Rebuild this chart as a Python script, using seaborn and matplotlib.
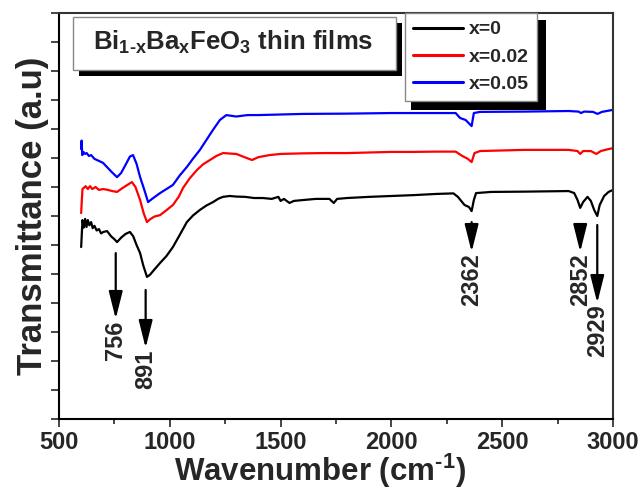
import numpy as np
import pandas as pd
import seaborn as sns
import matplotlib.pyplot as plt
from matplotlib.patches import Rectangle

# FTIR spectra (wavenumber in cm-1, transmittance in arbitrary units)
wn_0 = [600, 603, 606, 612, 618, 624, 630, 637, 645, 652, 660, 670, 680, 690, 700, 717, 735, 750, 762,
        780, 800, 820, 835, 850, 866, 880, 897, 910, 930, 956, 985, 1014, 1045, 1077, 1105, 1136, 1165,
        1195, 1220, 1240, 1270, 1300, 1340, 1380, 1420, 1460, 1490, 1500, 1515, 1540, 1560, 1600, 1660,
        1720, 1740, 1755, 1800, 1900, 2000, 2100, 2200, 2280, 2300, 2330, 2350, 2362, 2372, 2382, 2450,
        2600, 2800, 2825, 2840, 2852, 2865, 2885, 2900, 2915, 2929, 2940, 2960, 2980, 3000]
tr_0 = [5.93, 6.40, 6.86, 6.60, 6.90, 6.62, 6.86, 6.68, 6.79, 6.58, 6.66, 6.50, 6.55, 6.40, 6.45, 6.48,
        6.30, 6.20, 6.10, 6.25, 6.38, 6.45, 6.30, 6.00, 5.72, 5.30, 4.90, 4.97, 5.15, 5.38, 5.62, 5.93,
        6.35, 6.79, 7.02, 7.21, 7.36, 7.48, 7.60, 7.66, 7.69, 7.67, 7.66, 7.62, 7.62, 7.59, 7.66, 7.52,
        7.59, 7.45, 7.52, 7.55, 7.59, 7.59, 7.45, 7.59, 7.62, 7.66, 7.69, 7.72, 7.76, 7.78, 7.66, 7.38,
        7.31, 7.17, 7.55, 7.79, 7.83, 7.84, 7.86, 7.79, 7.55, 7.28, 7.48, 7.66, 7.52, 7.21, 7.00, 7.38,
        7.69, 7.83, 7.90]

wn_2 = [600, 603, 606, 612, 620, 630, 640, 650, 665, 680, 700, 720, 740, 762, 780, 800, 829, 845, 866,
        882, 897, 910, 930, 956, 985, 1014, 1040, 1060, 1090, 1123, 1150, 1181, 1210, 1240, 1300, 1340,
        1371, 1400, 1450, 1500, 1600, 1700, 1800, 1900, 2000, 2100, 2200, 2290, 2320, 2345, 2362, 2375,
        2400, 2500, 2600, 2800, 2840, 2852, 2865, 2900, 2925, 2945, 2970, 3000]
tr_2 = [7.10, 7.55, 7.93, 7.97, 8.03, 7.93, 8.03, 7.93, 8.00, 7.90, 7.93, 7.90, 7.86, 7.83, 7.93, 8.03,
        8.17, 8.00, 7.55, 7.10, 6.79, 6.88, 6.98, 7.03, 7.20, 7.38, 7.66, 7.97, 8.30, 8.59, 8.78, 8.93,
        9.07, 9.17, 9.14, 9.02, 8.93, 9.03, 9.10, 9.14, 9.16, 9.17, 9.17, 9.19, 9.21, 9.21, 9.22, 9.22,
        9.07, 8.97, 8.86, 9.17, 9.24, 9.26, 9.28, 9.28, 9.24, 9.14, 9.24, 9.24, 9.14, 9.24, 9.29, 9.34]

wn_5 = [600, 602, 605, 610, 618, 625, 635, 645, 660, 680, 699, 720, 740, 762, 780, 800, 820, 834, 850,
        866, 885, 902, 920, 956, 985, 1014, 1045, 1077, 1105, 1136, 1165, 1195, 1226, 1255, 1300, 1350,
        1400, 1500, 1600, 1800, 2000, 2200, 2290, 2310, 2335, 2362, 2372, 2400, 2600, 2800, 2845, 2855,
        2870, 2910, 2930, 2950, 3000]
tr_5 = [9.31, 9.60, 9.10, 9.21, 9.14, 9.17, 9.07, 9.10, 8.97, 8.90, 8.83, 8.66, 8.50, 8.34, 8.48, 8.76,
        9.05, 9.10, 8.80, 8.34, 7.90, 7.48, 7.59, 7.79, 7.93, 8.07, 8.40, 8.69, 8.98, 9.28, 9.62, 9.97,
        10.31, 10.48, 10.43, 10.48, 10.48, 10.50, 10.52, 10.53, 10.55, 10.55, 10.55, 10.38, 10.31, 10.10,
        10.55, 10.59, 10.60, 10.62, 10.60, 10.55, 10.60, 10.59, 10.52, 10.59, 10.66]

labels = ['x=0', 'x=0.02', 'x=0.05']
colors = ['black', 'red', 'blue']

peaks = [756, 891, 2362, 2852, 2929]
arrow_top = [5.72, 4.45, 6.79, 6.69, 6.69]
arrow_tip = [3.45, 2.45, 5.76, 5.76, 4.00]

df = pd.concat([
    pd.DataFrame({'wn': wn_0, 'tr': tr_0, 'sample': labels[0]}),
    pd.DataFrame({'wn': wn_2, 'tr': tr_2, 'sample': labels[1]}),
    pd.DataFrame({'wn': wn_5, 'tr': tr_5, 'sample': labels[2]}),
])

sns.set_style('ticks')
plt.rcParams['font.family'] = ['Liberation Sans', 'DejaVu Sans']
plt.rcParams['font.weight'] = 'bold'
plt.rcParams['mathtext.default'] = 'regular'

W, H = 643, 491
fig = plt.figure(figsize=(W / 100, H / 100), dpi=100)
ax = fig.add_axes([59 / W, 1 - 419 / H, 554 / W, 406 / H])

sns.lineplot(data=df, x='wn', y='tr', hue='sample', palette=dict(zip(labels, colors)),
             sort=False, estimator=None, lw=1.6, legend=False, ax=ax)

ax.set_xlim(500, 3000)
ax.set_ylim(0, 14)
ax.set_xticks(np.arange(500, 3001, 500))
ax.set_xticks(np.arange(750, 3000, 500), minor=True)
ax.set_yticks(np.arange(0, 15, 1))
ax.set_yticklabels([])
ax.tick_params(axis='x', which='major', direction='out', length=5.5, width=1.2, labelsize=17, pad=3)
ax.tick_params(axis='x', which='minor', direction='out', length=3.5, width=1.2)
ax.tick_params(axis='y', direction='out', length=5.5, width=1.2)
for s in ['left', 'bottom']:
    ax.spines[s].set_linewidth(1.5)
    ax.spines[s].set_color('black')
for s in ['top', 'right']:
    ax.spines[s].set_linewidth(1.5)
    ax.spines[s].set_color('#333333')

hy = '\u2010'
ax.set_xlabel('Wavenumber (cm$^{' + hy + '1}$)', fontsize=22.5, fontweight='bold')
ax.xaxis.label.set_va('baseline')
ax.xaxis.set_label_coords(261 / 554, -62 / 406)
ax.set_ylabel('Transmittance (a.u)', fontsize=25, fontweight='bold')
ax.yaxis.set_label_coords(-10 / 554, 0.5)

# peak arrows and labels
for p, y0, y1 in zip(peaks, arrow_top, arrow_tip):
    ax.annotate('', xy=(p, y1), xytext=(p, y0),
                arrowprops=dict(arrowstyle='-|>,head_length=1.2,head_width=0.3', color='black',
                                lw=1.6, mutation_scale=14, shrinkA=0, shrinkB=0))
    ax.text(p, y1 - 0.05, str(p), rotation=90, ha='center', va='top', fontsize=17, fontweight='bold')

# legend
handles = [plt.Line2D([], [], color=c, lw=2.2) for c in colors]
leg = ax.legend(handles, labels, loc='upper left', bbox_to_anchor=(346 / 554, 1.0), fontsize=14,
                frameon=True, fancybox=False, framealpha=1, handlelength=2.6, handletextpad=0.3,
                labelspacing=0.5, borderpad=0.4, borderaxespad=0)
leg.get_frame().set_edgecolor('#888888')
leg.get_frame().set_linewidth(1.0)
leg.set_zorder(6)


def px_box(x0, y0, x1, y1):
    # pixel box (from top-left of figure) -> axes fraction rectangle args
    return ((x0 - 59) / 554, (419 - y1) / 406), (x1 - x0) / 554, (y1 - y0) / 406


# drop shadows of the title box and the legend
for box in [(79, 23, 402, 76), (411, 20, 546, 110)]:
    xy, w, h = px_box(*box)
    ax.add_patch(Rectangle(xy, w, h, transform=ax.transAxes, facecolor='black', edgecolor='none',
                           zorder=4, clip_on=False))

# sample title box
xy, w, h = px_box(73, 17, 396, 70)
ax.add_patch(Rectangle(xy, w, h, transform=ax.transAxes, facecolor='white', edgecolor='#888888',
                       lw=1.0, zorder=5, clip_on=False))
ax.text((233 - 59) / 554, (419 - 42) / 406,
        'Bi$_{1' + hy + 'x}$Ba$_x$FeO$_3$ thin films',
        transform=ax.transAxes, fontsize=18.5, fontweight='bold', ha='center', va='center', zorder=6)

fig.savefig('out.png', dpi=100)
